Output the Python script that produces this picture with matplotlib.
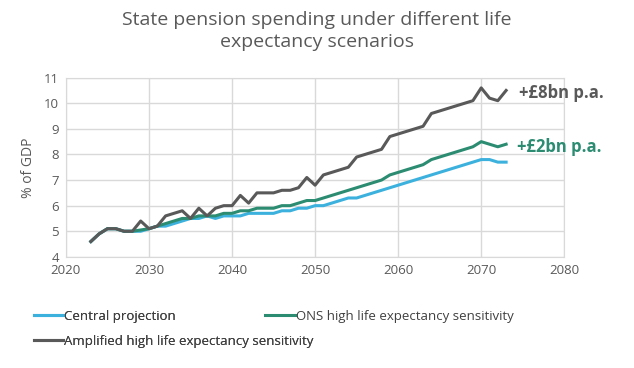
import matplotlib.pyplot as plt

plt.rcParams['font.family'] = ['Open Sans', 'DejaVu Sans']

# Daten (% des BIP)
years = list(range(2023, 2074))
central = [4.6, 4.9, 5.1, 5.1, 5.0, 5.0, 5.0, 5.1, 5.2, 5.2, 5.3, 5.4, 5.5, 5.5, 5.6, 5.5,
           5.6, 5.6, 5.6, 5.7, 5.7, 5.7, 5.7, 5.8, 5.8, 5.9, 5.9, 6.0, 6.0, 6.1, 6.2, 6.3,
           6.3, 6.4, 6.5, 6.6, 6.7, 6.8, 6.9, 7.0, 7.1, 7.2, 7.3, 7.4, 7.5, 7.6, 7.7, 7.8,
           7.8, 7.7, 7.7]
ons = [4.6, 4.9, 5.1, 5.1, 5.0, 5.0, 5.05, 5.1, 5.2, 5.3, 5.4, 5.5, 5.5, 5.6, 5.6, 5.6,
       5.7, 5.7, 5.8, 5.8, 5.9, 5.9, 5.9, 6.0, 6.0, 6.1, 6.2, 6.2, 6.3, 6.4, 6.5, 6.6,
       6.7, 6.8, 6.9, 7.0, 7.2, 7.3, 7.4, 7.5, 7.6, 7.8, 7.9, 8.0, 8.1, 8.2, 8.3, 8.5,
       8.4, 8.3, 8.4]
amplified = [4.6, 4.9, 5.1, 5.1, 5.0, 5.0, 5.4, 5.1, 5.2, 5.6, 5.7, 5.8, 5.5, 5.9, 5.6, 5.9,
             6.0, 6.0, 6.4, 6.1, 6.5, 6.5, 6.5, 6.6, 6.6, 6.7, 7.1, 6.8, 7.2, 7.3, 7.4, 7.5,
             7.9, 8.0, 8.1, 8.2, 8.7, 8.8, 8.9, 9.0, 9.1, 9.6, 9.7, 9.8, 9.9, 10.0, 10.1, 10.6,
             10.2, 10.1, 10.5]
labels = ['Central projection', 'ONS high life expectancy sensitivity',
          'Amplified high life expectancy sensitivity']

c_blue = '#3db1dd'
c_green = '#2b8c72'
c_grey = '#595959'

fig = plt.figure(figsize=(6.34, 3.68), dpi=100)
ax = fig.add_axes([0.104, 0.302, 0.786, 0.487])

l1, = ax.plot(years, central, color=c_blue, lw=2.2)
l2, = ax.plot(years, ons, color=c_green, lw=2.2)
l3, = ax.plot(years, amplified, color=c_grey, lw=2.2)

ax.set_xlim(2020, 2080)
ax.set_ylim(4, 11)
ax.set_xticks(range(2020, 2081, 10))
ax.set_yticks(range(4, 12))
ax.grid(True, color='#d9d9d9', lw=1)
ax.set_axisbelow(True)
for s in ax.spines.values():
    s.set_color('#d9d9d9')
ax.tick_params(length=0, labelsize=9.5, labelcolor=c_grey, pad=5)
ax.set_ylabel('% of GDP', fontsize=10, color=c_grey, labelpad=6)

ax.text(2074.5, 10.4, '+£8bn p.a.', color=c_grey, fontsize=12, fontweight='bold', va='center')
ax.text(2074.3, 8.3, '+£2bn p.a.', color=c_green, fontsize=12, fontweight='bold', va='center')

fig.suptitle('State pension spending under different life\nexpectancy scenarios',
             x=0.5, y=0.97, fontsize=14, color=c_grey, linespacing=1.3)

# Legende in zwei Teilen
leg1 = fig.legend([l1, l3], [labels[0], labels[2]], loc='upper left',
                  bbox_to_anchor=(0.035, 0.19), frameon=False, handlelength=2.2,
                  handletextpad=0.1, labelspacing=0.9, fontsize=9.5, labelcolor='#404040')
leg2 = fig.legend([l2], [labels[1]], loc='upper left',
                  bbox_to_anchor=(0.4, 0.19), frameon=False, handlelength=2.2,
                  handletextpad=0.1, fontsize=9.5, labelcolor='#404040')
fig.add_artist(leg1)

fig.savefig('out.png', dpi=100)
